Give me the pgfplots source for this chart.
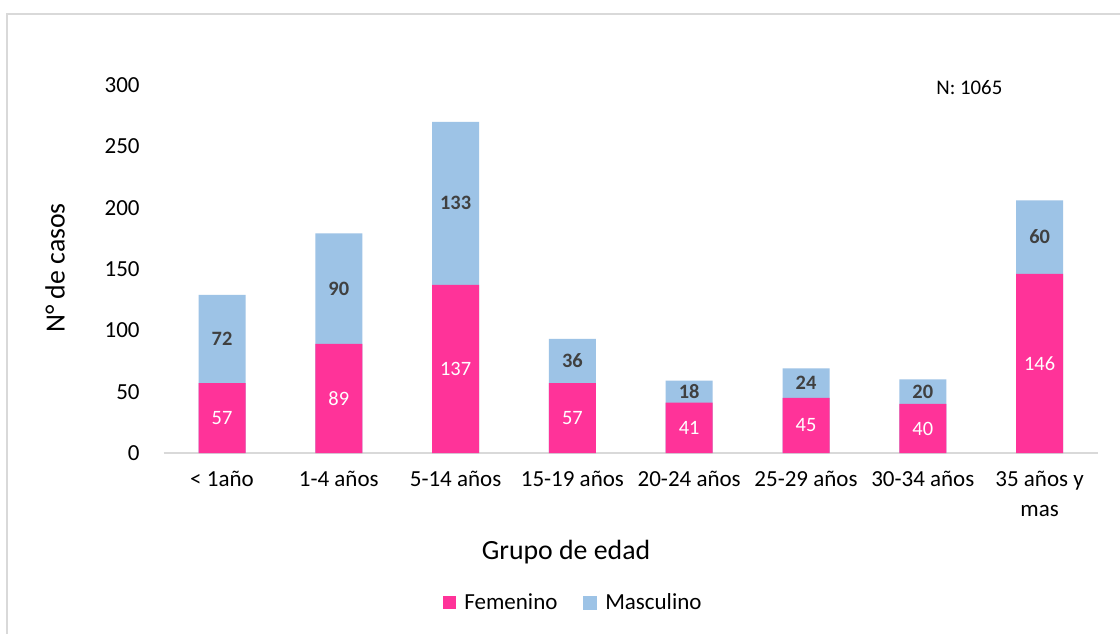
\documentclass[border=0pt]{standalone}
\usepackage{fontspec}
\setmainfont{Carlito}
\usepackage{pgfplots}
\usepackage{pgfplotstable}
\pgfplotsset{compat=1.18}
\pgfkeys{/pgf/number format/assume math mode=true}
\definecolor{fem}{HTML}{FF3399}
\definecolor{masc}{HTML}{9DC3E6}
\definecolor{lab}{HTML}{404040}
\definecolor{frame}{HTML}{D9D9D9}
\pgfplotstableread{
x F M
0 57 72
1 89 90
2 137 133
3 57 36
4 41 18
5 45 24
6 40 20
7 146 60
}\data
\pgfplotstablecreatecol[create col/expr={\thisrow{F}+\thisrow{M}}]{T}{\data}
\pgfplotstablecreatecol[create col/expr={\thisrow{F}/2}]{Fm}{\data}
\pgfplotstablecreatecol[create col/expr={\thisrow{F}+\thisrow{M}/2}]{Mm}{\data}
\begin{document}
\begin{tikzpicture}
\useasboundingbox (0,0) rectangle (560pt,316.5pt);
\fill[white] (0,0) rectangle (560pt,316.5pt);
\draw[frame, line width=0.6pt] (3.5pt,-2pt) -- (3.5pt,309.5pt) -- (565pt,309.5pt);
\begin{axis}[
  at={(81.8pt,90pt)}, anchor=south west,
  scale only axis, width=467.2pt, height=184pt,
  xmin=-0.5, xmax=7.5, ymin=0, ymax=300,
  xtick={0,...,7},
  xticklabels={{< 1año},{1-4 años},{5-14 años},{15-19 años},{20-24 años},{25-29 años},{30-34 años},{35 años y\\mas}},
  ytick={0,50,...,300},
  major tick length=0pt,
  axis x line*=bottom, axis y line*=left,
  x axis line style={draw=frame, line width=0.75pt},
  y axis line style={draw=none},
  tick label style={font=\fontsize{11.5}{15}\selectfont, text=black},
  xticklabel style={anchor=north, inner sep=0pt, yshift=-9pt, align=center},
  yticklabel style={anchor=east, inner sep=0pt, xshift=-11.8pt},
  legend style={draw=none, fill=none, at={(axis description cs:0.4397,-0.4076)}, anchor=center,
    legend columns=2, font=\fontsize{11.5}{14}\selectfont,
    /tikz/every odd column/.append style={column sep=2pt},
    /tikz/every even column/.append style={column sep=11pt}},
  clip=false,
]
\addplot[ybar, bar width=23.5pt, bar shift=0pt, fill=masc, draw=none, forget plot] table[x=x, y=T] {\data};
\addplot[ybar, bar width=23.5pt, bar shift=0pt, fill=fem, draw=none,
  legend image code/.code={\fill[fem] (0pt,-3.25pt) rectangle (6.5pt,3.25pt);}] table[x=x, y=F] {\data};
\addlegendentry{Femenino}
\addlegendimage{legend image code/.code={\fill[masc] (0pt,-3.25pt) rectangle (6.5pt,3.25pt);}}
\addlegendentry{Masculino}
\addplot[only marks, mark=none, forget plot, point meta=explicit, nodes near coords, nodes near coords align={center},
  every node near coord/.append style={anchor=center, text=white, font=\fontsize{10.2}{12}\selectfont}]
  table[x=x, y=Fm, meta=F] {\data};
\addplot[only marks, mark=none, forget plot, point meta=explicit, nodes near coords, nodes near coords align={center},
  every node near coord/.append style={anchor=center, text=lab, font=\fontsize{10.2}{12}\selectfont\bfseries}]
  table[x=x, y=Mm, meta=M] {\data};
\end{axis}
\node[rotate=90, font=\fontsize{13.9}{16}\selectfont] at (27.5pt,182.5pt) {N° de casos};
\node[font=\fontsize{13.9}{16}\selectfont] at (283pt,40.5pt) {Grupo de edad};
\node[anchor=west, inner sep=0pt, font=\fontsize{10.4}{12}\selectfont] at (468pt,272.5pt) {N: 1065};
\end{tikzpicture}
\end{document}
